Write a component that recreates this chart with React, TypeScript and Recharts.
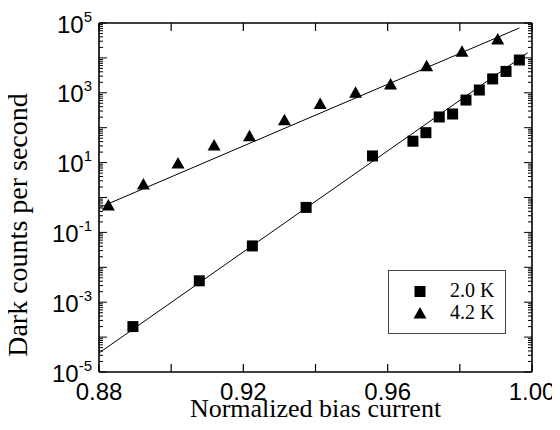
import React from 'react';
import { ComposedChart, Scatter, Line, XAxis, YAxis, Legend, Label } from 'recharts';

// 2.0 K measurements
const biasLow = [0.8894, 0.9078, 0.9225, 0.9374, 0.9558, 0.967, 0.9706, 0.9743, 0.978, 0.9817, 0.9854, 0.9891, 0.9928, 0.9965];
const countsLow = [2.0e-4, 4.1e-3, 0.041, 0.52, 15.5, 41, 72, 203, 247, 620, 1200, 2500, 4100, 8700];

// 4.2 K measurements
const biasHigh = [0.8826, 0.8923, 0.9019, 0.9119, 0.9217, 0.9314, 0.9413, 0.9511, 0.9608, 0.9708, 0.9806, 0.9905];
const countsHigh = [0.57, 2.3, 9.1, 30, 55, 158, 460, 970, 1660, 5600, 14500, 32600];

// exponential fits (end points)
const fitLowX = [0.88, 0.9988];
const fitLowY = [3.5e-5, 14000];
const fitHighX = [0.88, 0.9965];
const fitHighY = [0.51, 72000];

const xTicks = [0.88, 0.9, 0.92, 0.94, 0.96, 0.98, 1.0];
const xLabeled = [0.88, 0.92, 0.96, 1.0];
const yLabeledExp = [-5, -3, -1, 1, 3, 5];

const yTicks: number[] = [];
for (let e = -5; e < 5; e++) {
  for (let m = 1; m < 10; m++) yTicks.push(m * Math.pow(10, e));
}
yTicks.push(1e5);

const zip = (xs: number[], ys: number[]) => xs.map((x, i) => ({ x, y: ys[i] }));
const lowData = zip(biasLow, countsLow);
const highData = zip(biasHigh, countsHigh);
const fitLow = zip(fitLowX, fitLowY);
const fitHigh = zip(fitHighX, fitHighY);

const SANS = '"Liberation Sans", Arial, sans-serif';
const SERIF = '"Liberation Serif", "Times New Roman", serif';

function XTick(props: any) {
  const { x, y, payload, side } = props;
  const v = payload.value;
  const dir = side === 'bottom' ? -1 : 1;
  const show = side === 'bottom' && xLabeled.some((t) => Math.abs(t - v) < 1e-6);
  return (
    <g>
      <line x1={x} x2={x} y1={y} y2={y + dir * 8} stroke="#000" strokeWidth={1.2} />
      {show && (
        <text x={x} y={y + 28} textAnchor="middle" fontFamily={SANS} fontSize={24} fill="#000">
          {v.toFixed(2)}
        </text>
      )}
    </g>
  );
}

function YTick(props: any) {
  const { x, y, payload, side } = props;
  const v = payload.value;
  const e = Math.round(Math.log10(v));
  const major = Math.abs(v / Math.pow(10, e) - 1) < 1e-6;
  const dir = side === 'left' ? 1 : -1;
  const len = major ? 8 : 4;
  const show = side === 'left' && major && yLabeledExp.includes(e);
  return (
    <g>
      <line x1={x} x2={x + dir * len} y1={y} y2={y} stroke="#000" strokeWidth={1} />
      {show && (
        <text x={x - 7} y={y + 9.5} textAnchor="end" fontFamily={SANS} fontSize={24} fill="#000">
          <tspan>10</tspan>
          <tspan dy={-11} fontSize={15}>{e < 0 ? '-' + Math.abs(e) : String(e)}</tspan>
        </text>
      )}
    </g>
  );
}

const squareShape = (p: any) => <rect x={p.cx - 5.5} y={p.cy - 5.5} width={11} height={11} fill="#000" />;
const triangleShape = (p: any) => (
  <polygon points={`${p.cx},${p.cy - 7} ${p.cx - 6.5},${p.cy + 4.5} ${p.cx + 6.5},${p.cy + 4.5}`} fill="#000" />
);

function LegendBox() {
  return (
    <svg width={118} height={64} style={{ display: 'block' }}>
      <rect x={0.5} y={0.5} width={117} height={63} fill="#fff" stroke="#444" strokeWidth={1} />
      <rect x={26.5} y={16} width={11} height={11} fill="#000" />
      <polygon points="32,37 25.5,48.5 38.5,48.5" fill="#000" />
      <text x={62} y={27} fontFamily={SERIF} fontSize={20} fill="#000">2.0 K</text>
      <text x={62} y={48.5} fontFamily={SERIF} fontSize={20} fill="#000">4.2 K</text>
    </svg>
  );
}

export default function App() {
  return (
    <div style={{ margin: '-8px 0 0 -8px', width: 560, height: 430 }}>
      <ComposedChart width={560} height={430} margin={{ top: 22, right: 27, bottom: 0, left: 0 }}>
        <XAxis
          dataKey="x"
          type="number"
          domain={[0.88, 1.0]}
          allowDataOverflow
          ticks={xTicks}
          interval={0}
          tickSize={0}
          tickMargin={0}
          tickLine={false}
          height={58}
          axisLine={{ stroke: '#000', strokeWidth: 1.6 }}
          tick={(p: any) => <XTick {...p} side="bottom" />}
        >
          <Label
            content={(p: any) => {
              const vb = p.viewBox;
              return (
                <text x={vb.x + vb.width / 2} y={vb.y + 45} textAnchor="middle" fontFamily={SERIF} fontSize={26} fill="#000">
                  Normalized bias current
                </text>
              );
            }}
          />
        </XAxis>
        <XAxis
          xAxisId="top"
          orientation="top"
          dataKey="x"
          type="number"
          domain={[0.88, 1.0]}
          allowDataOverflow
          ticks={xTicks}
          interval={0}
          tickSize={0}
          tickMargin={0}
          tickLine={false}
          height={1}
          axisLine={{ stroke: '#000', strokeWidth: 1.6 }}
          tick={(p: any) => <XTick {...p} side="top" />}
        />
        <YAxis
          dataKey="y"
          type="number"
          scale="log"
          domain={[1e-5, 1e5]}
          allowDataOverflow
          ticks={yTicks}
          interval={0}
          tickSize={0}
          tickMargin={0}
          tickLine={false}
          width={99}
          axisLine={{ stroke: '#000', strokeWidth: 1.6 }}
          tick={(p: any) => <YTick {...p} side="left" />}
        >
          <Label
            content={(p: any) => {
              const vb = p.viewBox;
              const bx = 27;
              const cy = vb.y + 202;
              return (
                <text
                  x={bx}
                  y={cy}
                  transform={`rotate(-90 ${bx} ${cy})`}
                  textAnchor="middle"
                  fontFamily={SERIF}
                  fontSize={28}
                  fill="#000"
                >
                  Dark counts per second
                </text>
              );
            }}
          />
        </YAxis>
        <YAxis
          yAxisId="right"
          orientation="right"
          dataKey="y"
          type="number"
          scale="log"
          domain={[1e-5, 1e5]}
          allowDataOverflow
          ticks={yTicks}
          interval={0}
          tickSize={0}
          tickMargin={0}
          tickLine={false}
          width={1}
          axisLine={{ stroke: '#000', strokeWidth: 1.6 }}
          tick={(p: any) => <YTick {...p} side="right" />}
        />
        <Line
          data={fitLow}
          dataKey="y"
          xAxisId="top"
          yAxisId="right"
          stroke="#000"
          strokeWidth={1}
          dot={false}
          legendType="none"
          isAnimationActive={false}
        />
        <Line
          data={fitHigh}
          dataKey="y"
          xAxisId="top"
          yAxisId="right"
          stroke="#000"
          strokeWidth={1}
          dot={false}
          legendType="none"
          isAnimationActive={false}
        />
        <Scatter name="2.0 K" data={lowData} dataKey="y" fill="#000" shape={squareShape} isAnimationActive={false} />
        <Scatter name="4.2 K" data={highData} dataKey="y" fill="#000" shape={triangleShape} isAnimationActive={false} />
        <Legend
          layout="vertical"
          align="center"
          verticalAlign="middle"
          wrapperStyle={{ left: 388, top: 270, width: 118, height: 64 }}
          content={() => <LegendBox />}
        />
      </ComposedChart>
    </div>
  );
}
